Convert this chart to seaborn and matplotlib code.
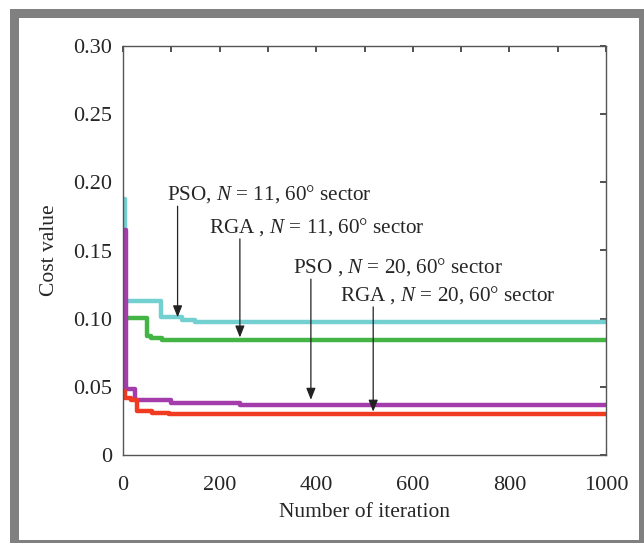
import pandas as pd
import matplotlib.pyplot as plt
import seaborn as sns
from matplotlib.patches import Rectangle

# data (iteration, cost) step points
pso11_x = [0, 4, 78, 122, 150, 1000]
pso11_y = [0.188, 0.113, 0.101, 0.099, 0.0975, 0.0975]
rga11_x = [3, 50, 57, 80, 1000]
rga11_y = [0.1005, 0.087, 0.0855, 0.0845, 0.0845]
pso20_x = [0, 7, 24, 100, 243, 1000]
pso20_y = [0.165, 0.0485, 0.040, 0.0385, 0.037, 0.037]
rga20_x = [0, 4, 17, 28, 60, 95, 1000]
rga20_y = [0.047, 0.042, 0.040, 0.0325, 0.031, 0.030, 0.030]

labels = ["PSO, $N$ = 11, 60° sector", "RGA , $N$ = 11, 60° sector",
          "PSO , $N$ = 20, 60° sector", "RGA , $N$ = 20, 60° sector"]
colors = ["#74d0d0", "#44b444", "#a43cac", "#f03a22"]

sns.set_style("white")
plt.rcParams["font.family"] = ["Liberation Serif", "DejaVu Serif"]
plt.rcParams["mathtext.fontset"] = "custom"
plt.rcParams["mathtext.rm"] = "Liberation Serif"
plt.rcParams["mathtext.it"] = "Liberation Serif:italic"

fig = plt.figure(figsize=(6.44, 5.43), dpi=100)
# grey frame around the figure
fig.patches.append(Rectangle((10, 0), 634, 534, transform=None,
                             facecolor="#808080", edgecolor="none", zorder=-2))
fig.patches.append(Rectangle((19, 3), 620, 522, transform=None,
                             facecolor="white", edgecolor="none", zorder=-1))
ax = fig.add_axes([123 / 644, 88 / 543, 483 / 644, 409 / 543])
ax.set_facecolor("white")

series = [(pso11_x, pso11_y), (rga11_x, rga11_y), (pso20_x, pso20_y), (rga20_x, rga20_y)]
for (x, y), c, lab in zip(series, colors, labels):
    d = pd.DataFrame({"it": x, "cost": y})
    sns.lineplot(data=d, x="it", y="cost", ax=ax, color=c, lw=3.2,
                 drawstyle="steps-post", label=lab, legend=False)

ax.set_xlim(0, 1000)
ax.set_ylim(0, 0.30)
ax.set_xticks([0, 200, 400, 600, 800, 1000])
ax.set_xticks(range(100, 1000, 200), minor=True)
ax.set_yticks([0, 0.05, 0.10, 0.15, 0.20, 0.25, 0.30])
ax.set_yticklabels(["0", "0.05", "0.10", "0.15", "0.20", "0.25", "0.30"])
ax.tick_params(which="both", direction="in", length=4, width=1.2, color="#333333",
               top=True, right=True, labelsize=16)
ax.tick_params(axis="y", pad=8)
ax.tick_params(axis="x", pad=15)
for s in ax.spines.values():
    s.set_color("#555555")
    s.set_linewidth(1.0)

ax.set_xlabel("Number of iteration", fontsize=15.5, labelpad=6)
ax.set_ylabel("Cost value", fontsize=15.5, labelpad=10)

# labels with arrows
text_pos = [(91, 0.1915), (179, 0.1673), (352, 0.138), (449, 0.1174)]
arrows = [(113, 0.1825, 0.101), (242, 0.1585, 0.0862), (389, 0.129, 0.0405), (518, 0.1086, 0.0318)]
for lab, (tx, ty), (ax_x, y0, y1) in zip(labels, text_pos, arrows):
    ax.text(tx, ty, lab, fontsize=15.2, ha="left", va="center")
    ax.annotate("", xy=(ax_x, y1), xytext=(ax_x, y0),
                arrowprops=dict(arrowstyle="-|>,head_length=0.5,head_width=0.2",
                                color="#222222", lw=0.9,
                                mutation_scale=14, shrinkA=0, shrinkB=0))

plt.savefig("out.png", dpi=100)
